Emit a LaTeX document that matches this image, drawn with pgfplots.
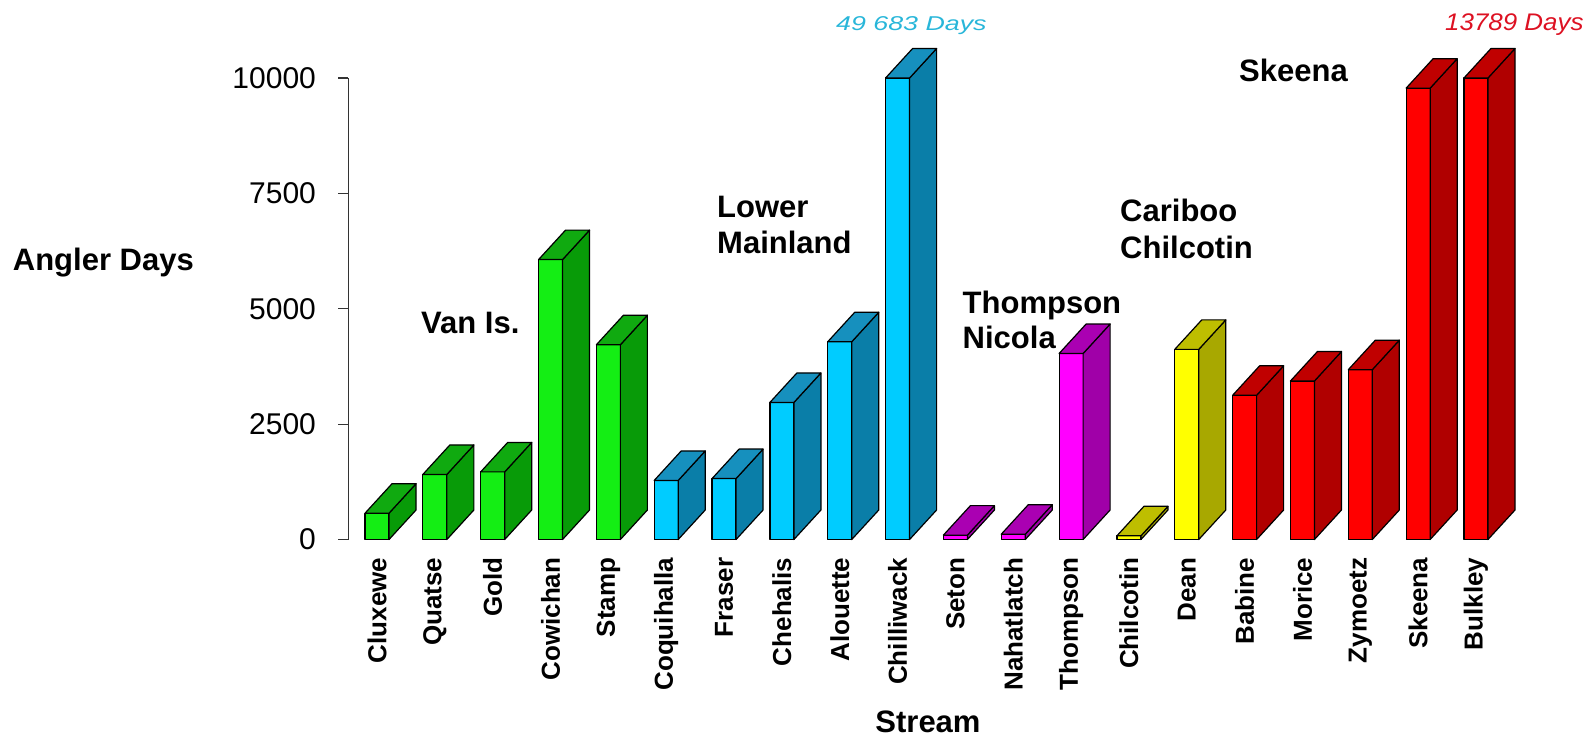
\documentclass[border=0pt]{standalone}
\usepackage{pgfplots}
\pgfplotsset{compat=1.18}
\usepackage{pgfplotstable}
\usepackage{graphicx}
\usepackage{fontspec}
\setmainfont{Liberation Sans}
\newcommand\fs[1]{\fontsize{#1}{#1}\selectfont}
% front (F), side (S) and top (T) colours for each region
\definecolor{GF}{RGB}{20,238,20}
\definecolor{GS}{RGB}{8,155,8}
\definecolor{GT}{RGB}{16,170,16}
\definecolor{BF}{RGB}{0,204,255}
\definecolor{BS}{RGB}{10,126,168}
\definecolor{BT}{RGB}{22,144,190}
\definecolor{MF}{RGB}{255,0,255}
\definecolor{MS}{RGB}{160,0,168}
\definecolor{MT}{RGB}{170,0,178}
\definecolor{YF}{RGB}{255,255,0}
\definecolor{YS}{RGB}{168,168,0}
\definecolor{YT}{RGB}{190,190,0}
\definecolor{RF}{RGB}{255,0,0}
\definecolor{RS}{RGB}{176,0,0}
\definecolor{RT}{RGB}{192,0,0}
\definecolor{cyanlab}{RGB}{40,182,217}
\definecolor{redlab}{RGB}{221,17,34}
% Angler days per stream (Chilliwack 49683 and Bulkley 13789 are cut at 10000)
\pgfplotstableread{
name v grp
Cluxewe 570 G
Quatse 1410 G
Gold 1465 G
Cowichan 6065 G
Stamp 4220 G
Coquihalla 1280 B
Fraser 1320 B
Chehalis 2970 B
Alouette 4285 B
Chilliwack 10000 B
Seton 95 M
Nahatlatch 115 M
Thompson 4030 M
Chilcotin 80 Y
Dean 4120 Y
Babine 3125 R
Morice 3435 R
Zymoetz 3680 R
Skeena 9780 R
Bulkley 10000 R
}\data
\begin{document}
\begin{tikzpicture}[x=1pt,y=1pt]
\useasboundingbox (0,0) rectangle (1591,737);
\begin{axis}[
  at={(348.1pt,197.5pt)}, anchor=south west,
  scale only axis, width=1156.8pt, height=461.5pt,
  xmin=-0.5, xmax=19.5, ymin=0, ymax=10000,
  clip=false,
  axis lines*=left,
  axis line style={-},
  x axis line style={draw=none},
  y axis line style={line width=1.2pt, black!80},
  xtick={0,...,19},
  xticklabels={Cluxewe,Quatse,Gold,Cowichan,Stamp,Coquihalla,Fraser,Chehalis,Alouette,Chilliwack,Seton,Nahatlatch,Thompson,Chilcotin,Dean,Babine,Morice,Zymoetz,Skeena,Bulkley},
  xtick style={draw=none},
  ytick={0,2500,5000,7500,10000},
  ytick style={line width=1.2pt, black!80},
  tick align=outside,
  major tick length=10pt,
  scaled y ticks=false,
  yticklabel style={font=\fs{30}, inner sep=0pt, xshift=-22pt, anchor=east,
    /pgf/number format/1000 sep={}, /pgf/number format/assume math mode=true},
  xticklabel shift=8pt,
  xticklabel style={rotate=90, anchor=east, inner sep=0pt, font=\bfseries\fs{26}},
]
\pgfplotsinvokeforeach{0,...,19}{
  \pgfplotstablegetelem{#1}{v}\of\data \let\val\pgfplotsretval
  \pgfplotstablegetelem{#1}{grp}\of\data \let\grp\pgfplotsretval
  \pgfmathsetmacro\xl{#1-0.2075}
  \pgfmathsetmacro\xr{#1+0.2075}
  \pgfmathsetmacro\xlb{#1-0.2075+0.467}
  \pgfmathsetmacro\xrb{#1+0.2075+0.467}
  \pgfmathsetmacro\ytop{\val+639}
  \edef\doit{%
    \noexpand\addplot[fill=\grp F, draw=black, line width=1.2pt, line join=round]
      coordinates {(\xl,0) (\xr,0) (\xr,\val) (\xl,\val)} -- cycle;
    \noexpand\addplot[fill=\grp S, draw=black, line width=1.2pt, line join=round]
      coordinates {(\xr,0) (\xrb,639) (\xrb,\ytop) (\xr,\val)} -- cycle;
    \noexpand\addplot[fill=\grp T, draw=black, line width=1.2pt, line join=round]
      coordinates {(\xl,\val) (\xr,\val) (\xrb,\ytop) (\xlb,\ytop)} -- cycle;
  }\doit
}
\end{axis}
\begin{scope}[every node/.style={inner sep=0pt, anchor=base west}]
\node at (12.7,466.3) {\bfseries\fs{31}Angler Days};
\node[anchor=base] at (928,5) {\bfseries\fs{31}Stream};
\node at (421,403) {\bfseries\fs{31}Van Is.};
\node at (717,519) {\bfseries\fs{31}Lower};
\node at (717,483) {\bfseries\fs{31}Mainland};
\node at (962.5,423.4) {\bfseries\fs{31}Thompson};
\node at (962.5,388) {\bfseries\fs{31}Nicola};
\node at (1120,515) {\bfseries\fs{31}Cariboo};
\node at (1120,478) {\bfseries\fs{31}Chilcotin};
\node at (1239,655.6) {\bfseries\fs{31}Skeena};
\node[text=cyanlab] at (836,706.6) {\scalebox{1.34}[1]{\itshape\fs{20}49 683 Days}};
\node[text=redlab] at (1445,706.3) {\scalebox{1.08}[1]{\itshape\fs{24}13789 Days}};
\end{scope}
\end{tikzpicture}
\end{document}
